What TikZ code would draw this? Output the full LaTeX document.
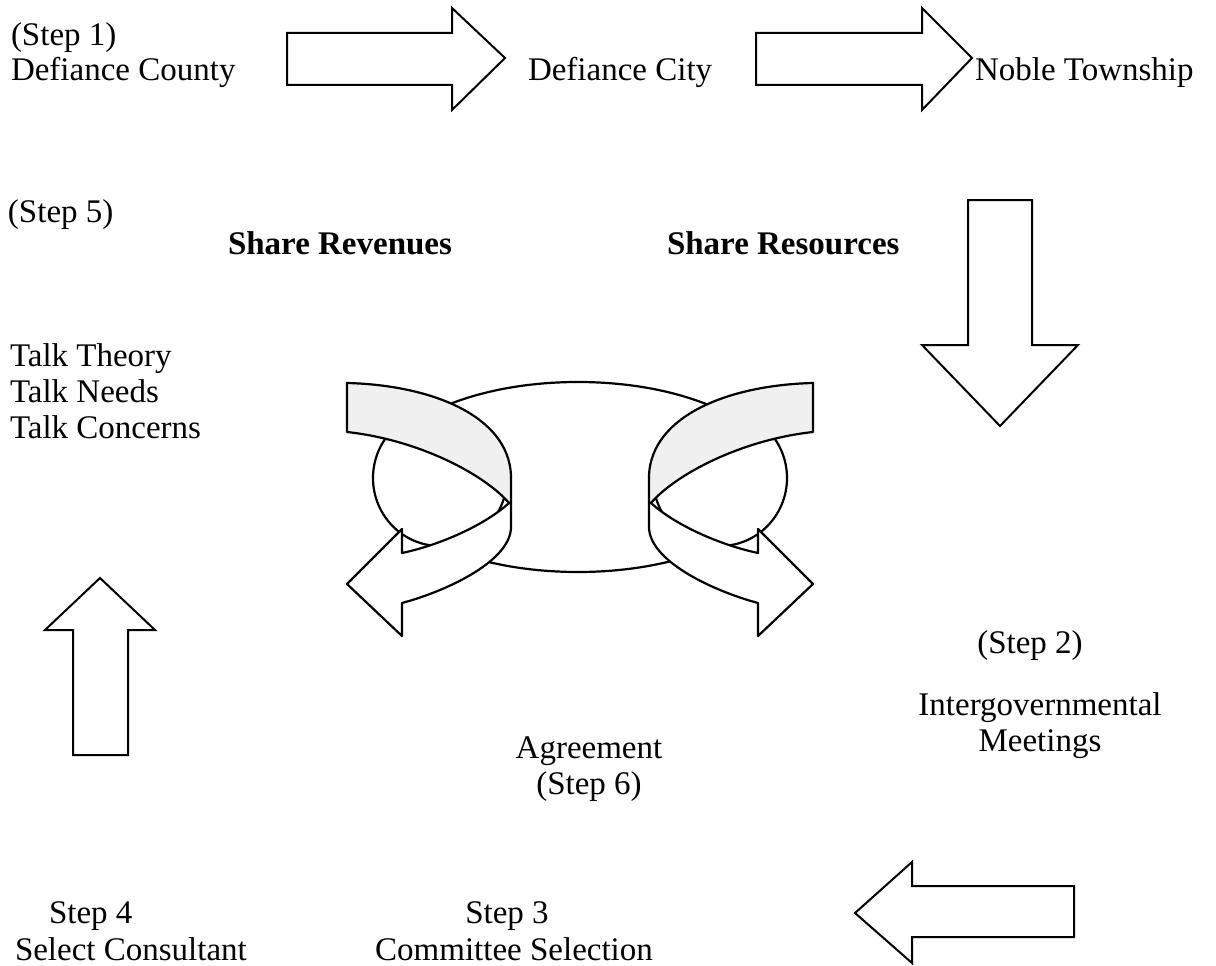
\documentclass[tikz,border=0pt]{standalone}
\usepackage{fontspec}
\setmainfont{Liberation Serif}
\tikzset{
  lbl/.style={inner sep=0pt, outer sep=0pt, font=\fontsize{33}{36}\selectfont},
  lblb/.style={lbl, font=\fontsize{33}{36}\selectfont\bfseries},
  blockarrow/.style={draw, line width=2pt, fill=white, line join=miter},
  ribbon/.style={draw, line width=2.2pt, fill=white, line join=round},
  ribbonshade/.style={ribbon, fill=black!6},
}
\begin{document}
\begin{tikzpicture}[x=1pt, y=-1pt]
\useasboundingbox[fill=white] (0,0) rectangle (1216,966);

% ---------- text ----------
\node[lbl, anchor=base west] (s1)   at (11,46)  {(Step 1)};
\node[lbl, anchor=base west] (dco)  at (11,81)  {Defiance County};
\node[lbl, anchor=base west] (dci)  at (528,81) {Defiance City};
\node[lbl, anchor=base west] (nob)  at (975,81) {Noble Township};
\node[lbl, anchor=base west] (s5)   at (8,222) {(Step 5)};
\node[lblb, anchor=base west] (srev) at (228,254) {Share Revenues};
\node[lblb, anchor=base west] (sres) at (667,254) {Share Resources};
\node[lbl, anchor=base west] (tt)   at (10,366) {Talk Theory};
\node[lbl, anchor=base west] (tn)   at (10,402) {Talk Needs};
\node[lbl, anchor=base west] (tc)   at (10,438) {Talk Concerns};
\node[lbl, anchor=base] (s2)   at (1030,653) {(Step 2)};
\node[lbl, anchor=base] (ig)   at (1040,715) {Intergovernmental};
\node[lbl, anchor=base] (mt)   at (1040,751) {Meetings};
\node[lbl, anchor=base] (ag)   at (589,758) {Agreement};
\node[lbl, anchor=base] (s6)   at (589,794) {(Step 6)};
\node[lbl, anchor=base west] (s4) at (49,923) {Step 4};
\node[lbl, anchor=base west] (sc) at (15,960) {Select Consultant};
\node[lbl, anchor=base] (s3)   at (507,923) {Step 3};
\node[lbl, anchor=base] (cs)   at (514,960) {Committee Selection};

% ---------- block arrows ----------
\draw[blockarrow] (287,33) -- (452,33) -- (452,8) -- (505,58) -- (452,110) -- (452,85) -- (287,85) -- cycle;
\draw[blockarrow] (756,33) -- (922,33) -- (922,8) -- (972,58) -- (922,110) -- (922,85) -- (756,85) -- cycle;
\draw[blockarrow] (968,200) -- (968,345) -- (922,345) -- (1000,426) -- (1078,345) -- (1032,345) -- (1032,200) -- cycle;
\draw[blockarrow] (73,755) -- (73,630) -- (45,630) -- (100,578) -- (155,630) -- (128,630) -- (128,755) -- cycle;
\draw[blockarrow] (1074,886) -- (912,886) -- (912,862) -- (855,913) -- (912,963) -- (912,937) -- (1074,937) -- cycle;

% ---------- central figure ----------
\draw[ribbon] (578,477) ellipse [x radius=200, y radius=95];
\foreach \xs/\xsh in {1/0, -1/1160}{
\begin{scope}[xshift=\xsh pt, xscale=\xs]
  \draw[ribbon] (440,478) ellipse [x radius=67, y radius=68];
  \draw[ribbonshade] (347,383) .. controls (430,385) and (508,415) .. (511,475)
     -- (511,503) -- (509,503) .. controls (485,475) and (420,440) .. (347,432) -- cycle;
  \draw[ribbon] (509,503) -- (511,503) -- (511,527)
     .. controls (511,560) and (450,590) .. (402,603)
     -- (402,636) -- (347,584) -- (402,529) -- (402,553)
     .. controls (440,545) and (485,525) .. (509,503) -- cycle;
\end{scope}
}
\end{tikzpicture}
\end{document}
